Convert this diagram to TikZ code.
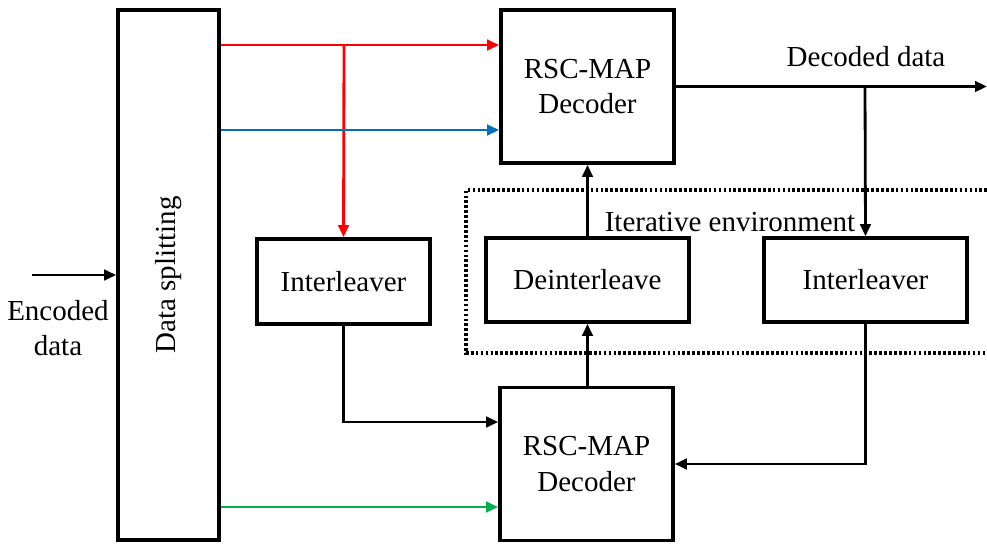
\documentclass[tikz,border=0pt]{standalone}
\usepackage{fontspec}
\setmainfont{Liberation Serif}
\usetikzlibrary{arrows.meta}

\definecolor{lineBlue}{RGB}{0,112,192}
\definecolor{lineGreen}{RGB}{0,176,80}

\begin{document}
\begin{tikzpicture}[
    x=0.2mm, y=-0.2mm,
    font=\fontsize{16.5}{20}\selectfont,
    block/.style={
        draw,
        line width=2.1pt,
        align=center,
        inner sep=2pt,
        fill=white
    },
    decoder/.style={block, minimum width=34.6mm, minimum height=30.6mm},
    stage/.style={block, minimum width=40.6mm, minimum height=16.8mm},
    flow/.style={-{Triangle[length=2.4mm, width=2.1mm]}, line width=1.6pt},
    envline/.style={line width=1.8pt, dash pattern=on 1.5pt off 1.3pt}
]
\useasboundingbox (0,0) rectangle (987,543);

\node[block, minimum width=20.2mm, minimum height=106mm] (splitter) at (168.5,275) {};
\node[rotate=90] (splitText) at (splitter.center) {Data splitting};

\node[decoder] (decTop) at (587.5,86.5) {RSC-MAP\\Decoder};
\node[decoder] (decBot) at (586.5,464) {RSC-MAP\\Decoder};

\node[block, minimum width=34.6mm, minimum height=17mm] (interA) at (343.5,281.5) {Interleaver};
\node[stage] (deinter) at (587.5,280) {Deinterleave};
\node[stage] (interB) at (865.5,280) {Interleaver};

\draw[envline] (987,190) -| (466,353) -- (987,353);
\node (envLabel) at (730,222) {Iterative environment};

\node[align=center] (encText) at (58,328) {Encoded\\data};
\node (decText) at (866,57) {Decoded data};

\coordinate (encIn) at (32,275);
\coordinate (redTap) at (344,45);
\coordinate (blueY) at (0,130);
\coordinate (greenY) at (0,507);
\coordinate (feedY) at (0,422);
\coordinate (outTap) at (865,86.5);
\coordinate (decOut) at (987,86.5);

\draw[flow] (encIn) -- (splitter.west |- encIn);

\draw[flow, red] (splitter.east |- redTap) -- (decTop.west |- redTap);
\draw[flow, red] (redTap) -- (interA.north);
\draw[flow, lineBlue] (splitter.east |- blueY) -- (decTop.west |- blueY);
\draw[flow, lineGreen] (splitter.east |- greenY) -- (decBot.west |- greenY);

\draw[flow] (interA.south) |- (decBot.west |- feedY);
\draw[flow] (decBot.north -| deinter) -- (deinter.south);
\draw[flow] (deinter.north) -- (decTop.south -| deinter);

\draw[flow] (decTop.east) -- (decOut);
\draw[flow] (outTap) -- (interB.north);
\draw[flow] (interB.south) |- (decBot.east);

\end{tikzpicture}
\end{document}
